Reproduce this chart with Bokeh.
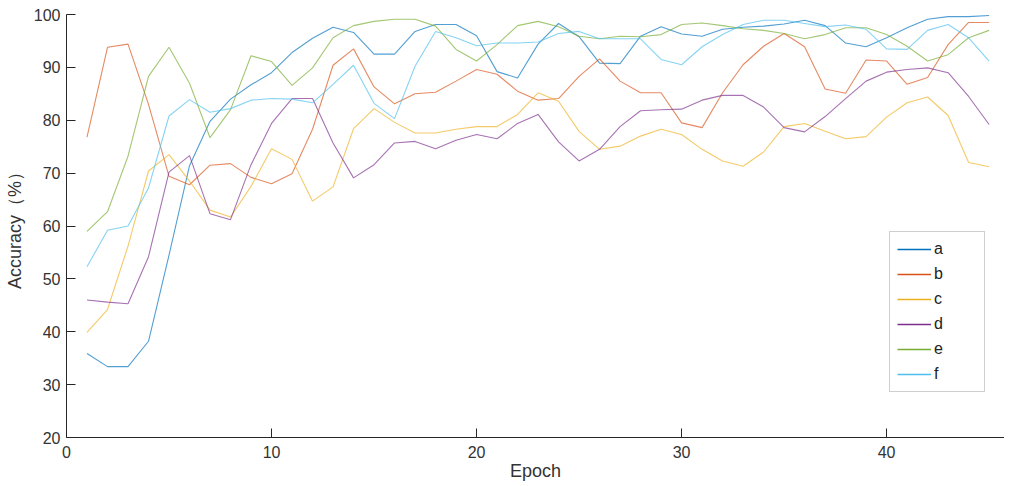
from bokeh.plotting import figure
from bokeh.models import Legend, LegendItem, Range1d, FixedTicker
from bokeh.embed import file_html
from bokeh.resources import INLINE

epochs = list(range(1, 46))
series_names = ["a", "b", "c", "d", "e", "f"]

a = [35.9, 33.4, 33.4, 38.2, 54.5, 71.4, 79.8, 84.0, 86.7, 89.0,
     92.8, 95.5, 97.6, 96.6, 92.5, 92.5, 96.8, 98.1, 98.1, 96.0,
     89.2, 88.0, 94.4, 98.3, 95.8, 90.8, 90.7, 95.9, 97.7, 96.3,
     95.9, 97.2, 97.6, 97.8, 98.2, 98.9, 97.9, 94.6, 93.9, 95.6,
     97.5, 99.1, 99.6, 99.6, 99.8]
b = [76.8, 93.8, 94.4, 83.0, 69.4, 67.8, 71.5, 71.8, 69.2, 68.0,
     69.9, 78.3, 90.4, 93.5, 86.3, 83.1, 85.0, 85.3, 87.4, 89.6,
     88.7, 85.5, 83.8, 84.1, 88.3, 91.6, 87.4, 85.2, 85.2, 79.5,
     78.6, 85.2, 90.5, 94.0, 96.4, 93.9, 85.9, 85.1, 91.4, 91.2,
     86.8, 88.1, 94.3, 98.5, 98.5]
c = [39.9, 44.2, 56.2, 70.4, 73.5, 68.5, 63.0, 61.7, 67.5, 74.6,
     72.6, 64.7, 67.4, 78.4, 82.2, 79.6, 77.6, 77.6, 78.3, 78.8,
     78.8, 81.1, 85.2, 83.6, 77.9, 74.5, 75.1, 77.0, 78.3, 77.3,
     74.5, 72.3, 71.3, 74.0, 78.8, 79.4, 77.9, 76.5, 76.9, 80.6,
     83.3, 84.4, 80.9, 72.0, 71.2]
d = [46.0, 45.6, 45.3, 54.2, 70.2, 73.3, 62.3, 61.2, 71.6, 79.4,
     84.1, 84.1, 75.7, 69.1, 71.6, 75.7, 76.0, 74.6, 76.2, 77.3,
     76.5, 79.4, 81.1, 75.9, 72.3, 74.5, 78.8, 81.8, 82.0, 82.1,
     83.8, 84.7, 84.7, 82.5, 78.6, 77.8, 80.7, 84.1, 87.4, 89.1,
     89.6, 89.9, 89.0, 84.5, 79.2]
e = [59.0, 62.7, 73.2, 88.3, 93.8, 87.0, 76.7, 82.0, 92.2, 91.1,
     86.6, 89.9, 95.6, 97.9, 98.7, 99.1, 99.1, 97.8, 93.4, 91.2,
     94.3, 97.9, 98.7, 97.7, 95.9, 95.4, 95.9, 95.8, 96.2, 98.1,
     98.4, 97.9, 97.3, 97.0, 96.4, 95.4, 96.2, 97.5, 97.5, 96.2,
     94.0, 91.2, 92.4, 95.6, 97.0]
f = [52.3, 59.2, 60.0, 67.2, 80.8, 83.9, 81.5, 82.2, 83.8, 84.1,
     84.0, 83.3, 86.8, 90.4, 83.2, 80.3, 90.2, 96.8, 95.6, 94.1,
     94.6, 94.6, 94.8, 96.4, 96.8, 95.4, 95.4, 95.4, 91.5, 90.5,
     93.9, 96.2, 98.1, 98.9, 98.9, 98.3, 97.7, 98.0, 97.2, 93.5,
     93.4, 97.0, 98.1, 95.6, 91.2]

series = [a, b, c, d, e, f]
colors = ["#0072BD", "#D95319", "#EDB120", "#7E2F8E", "#77AC30", "#4DBEEE"]

x_ticks = [0, 10, 20, 30, 40]
y_ticks = [20, 30, 40, 50, 60, 70, 80, 90, 100]

FONT = "Liberation Sans"
TXT = "#333333"
AX = "#262626"

p = figure(frame_width=938, frame_height=423, output_backend="svg",
           toolbar_location=None,
           x_range=Range1d(0, 45.75), y_range=Range1d(20, 100),
           min_border_left=66, min_border_top=14, min_border_right=0,
           min_border_bottom=36, background_fill_color="white",
           border_fill_color="white", outline_line_color=None)

p.xgrid.visible = False
p.ygrid.visible = False

items = []
for name, ys, col in zip(series_names, series, colors):
    p.line(epochs, ys, line_color=col, line_width=1.1, line_alpha=0.68)
    dummy = p.line(epochs, ys, line_color=col, line_width=1.5, visible=False)
    items.append(LegendItem(label=name, renderers=[dummy]))

for ax in (p.xaxis[0], p.yaxis[0]):
    ax.axis_line_color = AX
    ax.axis_line_width = 1
    ax.major_tick_line_color = AX
    ax.major_tick_in = 9
    ax.major_tick_out = 0
    ax.minor_tick_line_color = None
    ax.major_label_text_font = FONT
    ax.major_label_text_font_size = "16px"
    ax.major_label_text_color = TXT
    ax.axis_label_text_font = FONT
    ax.axis_label_text_font_size = "18px"
    ax.axis_label_text_font_style = "normal"
    ax.axis_label_text_color = TXT

p.xaxis[0].ticker = FixedTicker(ticks=x_ticks)
p.yaxis[0].ticker = FixedTicker(ticks=y_ticks)
p.xaxis[0].axis_label = "Epoch"
p.yaxis[0].axis_label = "Accuracy（%）"
p.xaxis[0].major_label_standoff = 8
p.xaxis[0].axis_label_standoff = 0
p.yaxis[0].major_label_standoff = 6
p.yaxis[0].axis_label_standoff = 6

legend = Legend(items=items, location=(823, 45), orientation="vertical",
                padding=7, spacing=5, margin=0,
                glyph_width=34, glyph_height=20, label_height=20,
                label_width=43, label_standoff=3,
                label_text_font=FONT, label_text_font_size="16px",
                label_text_color="#222222",
                border_line_color="#a0a0a0", border_line_width=1,
                background_fill_color="white", background_fill_alpha=1.0)
p.add_layout(legend)

open("out.html", "w").write(file_html(p, INLINE))
